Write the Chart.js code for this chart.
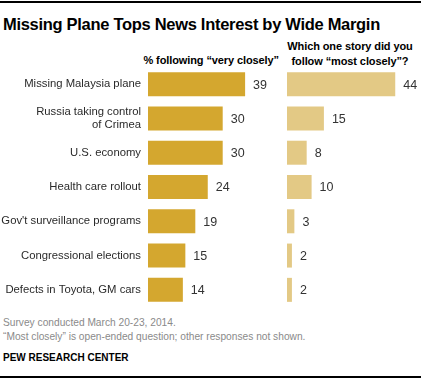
<!DOCTYPE html>
<html><head><meta charset="utf-8">
<script src="https://cdn.jsdelivr.net/npm/chart.js@4"></script>
<style>
body{margin:0;width:422px;height:379px;background:#fff;position:relative;overflow:hidden;font-family:"Liberation Sans",Arial,sans-serif;}
.abs{position:absolute;}
#topline{left:0;top:1px;width:421px;height:2px;background:#000;}
#botline{left:0;top:376px;width:421px;height:2px;background:#000;}
#title{left:3px;top:15px;font-size:16.5px;font-weight:bold;color:#000;white-space:nowrap;letter-spacing:-0.3px;}
#h1{left:100px;width:179px;top:54px;text-align:right;font-size:11px;font-weight:bold;color:#000;white-space:nowrap;letter-spacing:-0.1px;}
#h2{left:282px;width:136px;top:39px;text-align:center;font-size:11px;font-weight:bold;color:#000;line-height:14.5px;white-space:nowrap;letter-spacing:-0.1px;}
#f1{left:3px;top:316px;font-size:10.2px;color:#8a8a8a;line-height:14px;white-space:nowrap;}
#f2{left:3px;top:352px;font-size:10px;font-weight:bold;color:#000;white-space:nowrap;}
#c1w{left:0;top:67px;width:285px;height:240px;}
#c2w{left:287px;top:67px;width:135px;height:240px;}
</style></head>
<body>
<div id="topline" class="abs"></div>
<div id="title" class="abs">Missing Plane Tops News Interest by Wide Margin</div>
<div id="h1" class="abs">% following “very closely”</div>
<div id="h2" class="abs">Which one story did you<br>follow “most closely”?</div>
<div id="c1w" class="abs"><canvas id="c1"></canvas></div>
<div id="c2w" class="abs"><canvas id="c2"></canvas></div>
<div id="f1" class="abs">Survey conducted March 20-23, 2014.<br>“Most closely” is open-ended question; other responses not shown.</div>
<div id="f2" class="abs">PEW RESEARCH CENTER</div>
<div id="botline" class="abs"></div>
<script>
const categories = [
  "Missing Malaysia plane",
  ["Russia taking control","of Crimea"],
  "U.S. economy",
  "Health care rollout",
  "Gov't surveillance programs",
  "Congressional elections",
  "Defects in Toyota, GM cars"
];
const veryClosely = [39, 30, 30, 24, 19, 15, 14];
const mostClosely = [44, 15, 8, 10, 3, 2, 2];

const valueLabels = {
  id: 'valueLabels',
  afterDatasetsDraw(chart) {
    const ctx = chart.ctx;
    ctx.save();
    ctx.font = '12.5px "Liberation Sans", Arial, sans-serif';
    ctx.fillStyle = '#333';
    ctx.textAlign = 'left';
    ctx.textBaseline = 'middle';
    chart.data.datasets.forEach((ds, di) => {
      chart.getDatasetMeta(di).data.forEach((bar, i) => {
        ctx.fillText(String(ds.data[i]), bar.x + 8, bar.y + 1);
      });
    });
    ctx.restore();
  }
};

function makeChart(id, data, color, showY, xmax, yWidth) {
  return new Chart(document.getElementById(id), {
    type: 'bar',
    data: { labels: categories, datasets: [{ data: data, backgroundColor: color, barPercentage: 0.7, categoryPercentage: 1.0 }] },
    options: {
      indexAxis: 'y',
      responsive: true,
      maintainAspectRatio: false,
      animation: false,
      layout: { padding: 0 },
      plugins: { legend: { display: false }, tooltip: { enabled: false } },
      scales: {
        x: { display: false, min: 0, max: xmax },
        y: {
          display: showY,
          grid: { display: false, drawTicks: false },
          border: { display: false },
          ticks: { color: '#2a2a2a', padding: 7, font: { family: '"Liberation Sans", Arial, sans-serif', size: 11.3, lineHeight: 1.2 } },
          afterFit(scale) {
            if (showY) {
              scale.width = yWidth;
              scale.paddingTop = 0;
              scale.paddingBottom = 0;
            }
          }
        }
      }
    },
    plugins: [valueLabels]
  });
}
makeChart('c1', veryClosely, '#D4A72F', true, 137 / 2.49, 148);
makeChart('c2', mostClosely, '#E3C985', false, 135 / 2.46, 0);
</script>
</body></html>
